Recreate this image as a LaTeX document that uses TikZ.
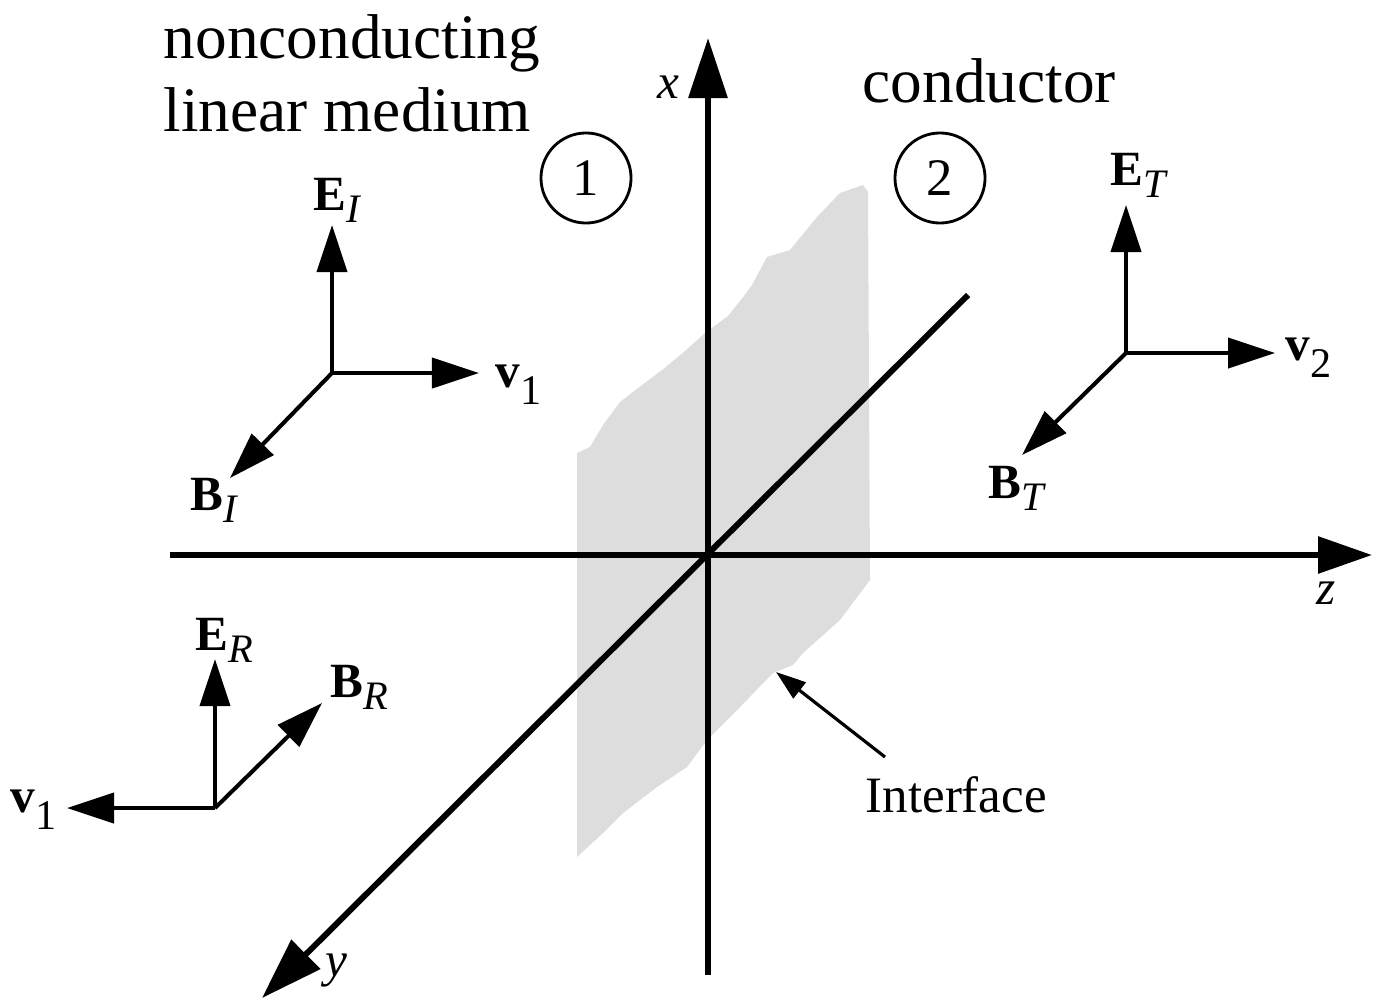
\documentclass[tikz,border=0pt]{standalone}
\usepackage{fontspec}
\setmainfont{Liberation Serif}
\usetikzlibrary{arrows.meta}
\newcommand{\vlab}[2]{{\fontsize{14}{14}\selectfont\bfseries #1}\raisebox{-3.5pt}{\fontsize{11.5}{11.5}\selectfont\itshape #2}}
\newcommand{\vnum}[2]{{\fontsize{14}{14}\selectfont\bfseries #1}\raisebox{-5pt}{\fontsize{12}{12}\selectfont #2}}
\begin{document}
\begin{tikzpicture}[x=0.01cm,y=-0.01cm,
  axis/.style={line width=1.7pt,-{Triangle[length=0.6cm,width=0.38cm]}},
  vec/.style={line width=1.15pt,-{Triangle[length=0.47cm,width=0.3cm]}},
  ptr/.style={line width=0.9pt,-{Triangle[length=0.3cm,width=0.2cm]}},
  lab/.style={anchor=base west,inner sep=0pt},
  num/.style={circle,draw,line width=0.8pt,minimum size=0.9cm,inner sep=0pt,font=\fontsize{15}{15}\selectfont},
  big/.style={anchor=base west,inner sep=0pt,font=\fontsize{18}{18}\selectfont}]
\useasboundingbox (0,0) rectangle (1377,1000);
% interface plane
\fill[fill={rgb,255:red,221;green,221;blue,221}]
 (577,453) -- (590,447) -- (603,425) -- (620,402) -- (642,385) -- (662,370) -- (684,352) -- (705,333) -- (728,316) -- (744,296) -- (752,285) -- (767,257) -- (790,250) -- (817,217) -- (840,193) -- (863,185) -- (868,192) -- (870,580) -- (840,620) -- (803,653) -- (793,665) -- (773,673) -- (740,707) -- (707,740) -- (687,767) -- (657,787) -- (623,813) -- (603,833) -- (577,857) -- cycle;
% axes
\coordinate (O) at (708,555);
\coordinate (zs) at (170,555);
\coordinate (ze) at (1372,555);
\coordinate (xs) at (708,975);
\coordinate (xe) at (708,38);
\coordinate (ys) at (968,295);
\coordinate (ye) at (262,998);
\draw[line width=1.7pt,-{Triangle[length=0.54cm,width=0.36cm]}] (zs) -- (ze);
\draw[axis] (xs) -- (xe);
\draw[line width=1.7pt,-{Triangle[length=0.62cm,width=0.4cm]}] (ys) -- (ye);
\node[lab,font=\fontsize{14}{14}\selectfont\itshape] (xl) at (657,98) {x};
\node[lab,font=\fontsize{14}{14}\selectfont\itshape] (zl) at (1316,604) {z};
\node[lab,font=\fontsize{14}{14}\selectfont\itshape] (yl) at (325,976) {y};
% region numbers
\node[num] (c1) at (586,178) {1};
\node[num] (c2) at (940,178) {2};
% titles
\node[big] (t1) at (163,58) {nonconducting};
\node[big] (t2) at (163,131) {linear medium};
\node[big] (t3) at (862,102) {conductor};
% incident
\coordinate (oI) at (332,373);
\coordinate (eI) at (332,225);
\coordinate (vI) at (479,373);
\coordinate (bI) at (230,478);
\draw[vec] (oI) -- (eI);
\draw[vec] (oI) -- (vI);
\draw[vec] (oI) -- (bI);
\node[lab] (EI) at (313,210) {\vlab{E}{I}};
\node[lab] (V1a) at (495,387) {\vnum{v}{1}};
\node[lab] (BI) at (190,510) {\vlab{B}{I}};
% reflected
\coordinate (oR) at (215,808);
\coordinate (eR) at (215,659);
\coordinate (bR) at (322,703);
\coordinate (vR) at (67,808);
\draw[vec] (oR) -- (eR);
\draw[vec] (oR) -- (bR);
\draw[vec] (oR) -- (vR);
\node[lab] (ER) at (195,650) {\vlab{E}{R}};
\node[lab] (BR) at (330,697) {\vlab{B}{R}};
\node[lab] (V1b) at (10,812) {\vnum{v}{1}};
% transmitted
\coordinate (oT) at (1126,353);
\coordinate (eT) at (1126,205);
\coordinate (vT) at (1275,353);
\coordinate (bT) at (1022,455);
\draw[vec] (oT) -- (eT);
\draw[vec] (oT) -- (vT);
\draw[vec] (oT) -- (bT);
\node[lab] (ET) at (1110,185) {\vlab{E}{T}};
\node[lab] (V2) at (1285,360) {\vnum{v}{2}};
\node[lab] (BT) at (988,498) {\vlab{B}{T}};
% interface pointer
\node[lab,font=\fontsize{14.5}{14.5}\selectfont] (IF) at (865,812) {Interface};
\coordinate (ps) at (885,757);
\coordinate (pe) at (776,672);
\draw[ptr] (ps) -- (pe);
\end{tikzpicture}
\end{document}
